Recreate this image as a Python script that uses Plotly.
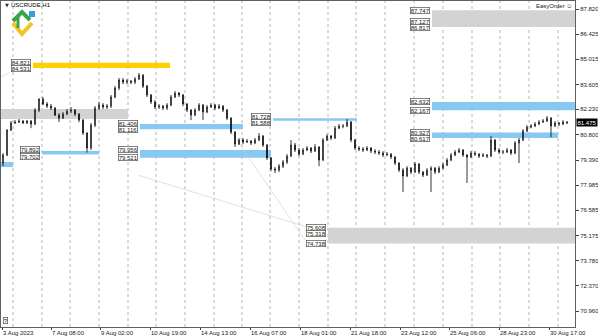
import plotly.graph_objects as go

# ---------------- data ----------------
opens = [79.22, 79.67, 81.06, 81.46, 81.51, 81.57, 81.46, 81.57, 81.40, 82.18,
         82.79, 82.52, 82.40, 82.29, 81.90, 81.73, 81.96, 82.12, 82.18, 81.96,
         81.62, 80.90, 80.06, 81.34, 82.29, 82.46, 82.35, 82.40, 82.91, 83.41,
         83.86, 83.74, 83.80, 83.74, 83.91, 84.13, 83.52, 83.02, 82.63, 82.35,
         82.40, 82.29, 82.46, 82.91, 83.13, 83.02, 82.52, 82.18, 81.90, 82.18,
         82.46, 82.07, 82.35, 82.46, 82.29, 82.40, 82.18, 81.73, 80.95, 80.28,
         80.51, 80.39, 80.45, 80.34, 80.51, 80.73, 80.23, 79.50, 78.89, 78.83,
         79.05, 79.28, 79.61, 80.23, 79.95, 79.72, 79.95, 80.06, 79.89, 80.12,
         79.39, 80.51, 80.73, 80.62, 81.17, 81.29, 81.29, 81.51, 80.51, 80.06,
         80.00, 79.95, 80.06, 79.89, 79.84, 79.78, 79.67, 79.72, 79.56, 79.22,
         78.83, 78.50, 78.94, 78.72, 79.17, 78.72, 78.55, 78.83, 78.94, 78.72,
         78.94, 79.11, 79.39, 79.67, 79.84, 79.95, 79.67, 79.56, 79.78, 79.72,
         79.61, 79.67, 79.61, 80.51, 79.95, 79.84, 79.84, 79.95, 79.78, 80.34,
         80.51, 81.01, 81.23, 81.29, 81.40, 81.51, 81.57, 81.73, 81.29, 81.46,
         81.40, 81.51]
highs = [79.78, 81.12, 81.57, 81.62, 81.68, 81.62, 81.62, 81.62, 82.29, 82.85,
         82.91, 82.63, 82.52, 82.35, 82.01, 82.07, 82.24, 82.35, 82.24, 82.01,
         81.68, 80.95, 81.46, 82.40, 82.63, 82.57, 82.52, 83.02, 83.52, 83.97,
         83.97, 83.91, 83.86, 84.02, 84.25, 84.19, 83.58, 83.08, 82.74, 82.52,
         82.46, 82.57, 83.02, 83.24, 83.19, 83.08, 82.57, 82.24, 82.29, 82.57,
         82.52, 82.46, 82.57, 82.52, 82.52, 82.46, 82.24, 81.79, 81.01, 80.62,
         80.62, 80.56, 80.51, 80.62, 80.90, 80.79, 80.28, 79.56, 79.00, 79.17,
         79.39, 79.72, 80.51, 80.34, 80.06, 80.06, 80.17, 80.12, 80.28, 80.17,
         80.62, 80.84, 80.79, 81.29, 81.40, 81.40, 81.68, 81.57, 80.56, 80.17,
         80.12, 80.17, 80.12, 80.00, 79.95, 79.89, 79.84, 79.78, 79.61, 79.28,
         78.94, 79.05, 79.00, 79.28, 79.22, 78.77, 78.94, 79.05, 79.00, 79.05,
         79.22, 79.50, 79.78, 79.95, 80.06, 80.00, 79.72, 79.89, 79.89, 79.78,
         79.78, 79.72, 80.73, 80.56, 80.06, 79.95, 80.06, 80.00, 80.45, 80.62,
         81.12, 81.34, 81.40, 81.51, 81.62, 81.68, 81.85, 81.79, 81.57, 81.51,
         81.62, 81.57]
lows = [79.05, 79.61, 81.01, 81.40, 81.46, 81.40, 81.40, 81.17, 81.34, 82.07,
        82.46, 82.29, 82.18, 81.85, 81.51, 81.68, 81.90, 82.01, 81.85, 81.51,
        80.79, 79.81, 79.95, 81.23, 82.18, 82.24, 82.24, 82.29, 82.85, 83.30,
        83.63, 83.63, 83.63, 83.63, 83.86, 83.41, 82.91, 82.52, 82.24, 82.24,
        82.18, 82.18, 82.40, 82.85, 82.91, 82.40, 82.07, 81.62, 81.85, 82.12,
        81.62, 82.01, 82.29, 82.18, 82.24, 82.07, 81.62, 80.84, 80.12, 80.23,
        80.28, 80.34, 80.23, 80.28, 80.45, 80.12, 79.39, 78.77, 78.66, 78.72,
        78.94, 79.17, 79.56, 79.84, 79.61, 79.67, 79.89, 79.78, 79.84, 79.05,
        79.33, 80.45, 80.51, 80.56, 81.12, 81.17, 81.23, 80.39, 79.95, 79.89,
        79.84, 79.89, 79.78, 79.72, 79.67, 79.56, 79.61, 79.44, 79.11, 78.72,
        77.60, 78.44, 78.61, 78.66, 78.61, 78.44, 78.50, 77.60, 78.61, 78.66,
        78.89, 79.05, 79.33, 79.61, 79.78, 79.56, 78.11, 79.50, 79.61, 79.50,
        79.56, 79.50, 79.56, 79.84, 79.72, 79.72, 79.78, 79.67, 79.72, 79.22,
        80.45, 80.95, 81.17, 81.23, 81.34, 81.46, 81.51, 80.67, 81.23, 81.29,
        81.34, 81.40]
closes = [79.67, 81.06, 81.46, 81.51, 81.57, 81.46, 81.57, 81.40, 82.18, 82.79,
          82.52, 82.40, 82.29, 81.90, 81.73, 81.96, 82.12, 82.18, 81.96, 81.62,
          80.90, 80.06, 81.34, 82.29, 82.46, 82.35, 82.40, 82.91, 83.41, 83.86,
          83.74, 83.80, 83.74, 83.91, 84.13, 83.52, 83.02, 82.63, 82.35, 82.40,
          82.29, 82.46, 82.91, 83.13, 83.02, 82.52, 82.18, 81.90, 82.18, 82.46,
          82.07, 82.35, 82.46, 82.29, 82.40, 82.18, 81.73, 80.95, 80.28, 80.51,
          80.39, 80.45, 80.34, 80.51, 80.73, 80.23, 79.50, 78.89, 78.83, 79.05,
          79.28, 79.61, 80.23, 79.95, 79.72, 79.95, 80.06, 79.89, 80.12, 79.39,
          80.51, 80.73, 80.62, 81.17, 81.29, 81.29, 81.51, 80.51, 80.06, 80.00,
          79.95, 80.06, 79.89, 79.84, 79.78, 79.67, 79.72, 79.56, 79.22, 78.83,
          78.50, 78.94, 78.72, 79.17, 78.72, 78.55, 78.83, 78.94, 78.72, 78.94,
          79.11, 79.39, 79.67, 79.84, 79.95, 79.67, 79.56, 79.78, 79.72, 79.61,
          79.67, 79.61, 80.51, 79.95, 79.84, 79.84, 79.95, 79.78, 80.34, 80.51,
          81.01, 81.23, 81.29, 81.40, 81.51, 81.57, 81.73, 81.29, 81.46, 81.40,
          81.51, 81.475]
bar_index = list(range(len(closes)))

# time axis labels (bar position of label start)
time_labels = ["3 Aug 2023", "7 Aug 08:00", "9 Aug 02:00", "10 Aug 19:00",
               "14 Aug 13:00", "16 Aug 07:00", "18 Aug 01:00", "21 Aug 18:00",
               "23 Aug 12:00", "25 Aug 06:00", "28 Aug 23:00", "30 Aug 17:00"]
time_label_pos = [-0.25, 12, 24.25, 36.75, 49.25, 61.75, 74.25, 86.75,
                  99.25, 111.5, 124, 136.5]
# day separators (vertical dotted grid)
day_separators = [2.5, 9.75, 16.75, 24, 31.25, 38.25, 45.5, 52.75, 59.75,
                  66.75, 74, 81.25, 88.25, 95.5, 102.75, 110, 117.25, 124.25,
                  131.5, 138.75]
# price scale
price_ticks = [87.820, 86.425, 85.015, 83.605, 82.230, 80.800, 79.390,
               77.985, 76.585, 75.175, 73.780, 72.370, 70.960]

# zones
zone_top = [84.821, 82.24, 79.28, 79.892, 81.406, 79.956, 81.728, 87.747,
            82.632, 80.927, 75.608]
zone_bottom = [84.531, 81.68, 79.00, 79.702, 81.116, 79.521, 81.588, 86.817,
               82.167, 80.617, 74.738]
zone_start = [7.5, -0.5, -0.5, 9.75, 34.25, 34.25, 67.5, 107.25, 107.25,
              107.25, 81.25]
zone_end = [41.75, 31.25, 2.5, 24, 60, 67, 88.5, 143, 143, 138.75, 143]
zone_kind = ["gold", "grey", "blue", "blue", "blue", "blue", "blue", "grey",
             "blue", "blue", "grey"]
zone_labels = [[84.821, 84.531], [], [], [79.892, 79.702], [81.406, 81.116],
               [79.956, 79.521], [81.728, 81.588], [87.747, 87.127, 86.817],
               [82.632, 82.167], [80.927, 80.617], [75.608, 75.318, 74.738]]

# faint trend lines (bar, price)
trend_x0 = [33.75, 56.75, -0.5]
trend_y0 = [78.55, 81.06, 84.02]
trend_x1 = [76.0, 75.5, 1.75]
trend_y1 = [75.65, 74.92, 84.30]

symbol = "USCRUDE,H1"
last_price = closes[-1]

# ---------------- figure ----------------
W, H = 598, 336
ML, MR, MT, MB = 1, 23, 1, 9
PW, PH = W - ML - MR, H - MT - MB
Y_RANGE = [70.07, 88.27]
PX_PER_UNIT = PH / (Y_RANGE[1] - Y_RANGE[0])

def px(xp):
    return (xp - ML) / PW

def py(yp):
    return (H - MB - yp) / PH

colors = {"gold": "#ffd000", "grey": "#d3d3d3", "blue": "#87c9f2"}
FONT = "Liberation Sans, Arial, DejaVu Sans"

fig = go.Figure()
fig.add_trace(go.Candlestick(
    x=bar_index, open=opens, high=highs, low=lows, close=closes,
    increasing=dict(line=dict(color="#000000", width=0.8), fillcolor="#ffffff"),
    decreasing=dict(line=dict(color="#000000", width=0.8), fillcolor="#000000"),
    whiskerwidth=0, showlegend=False, hoverinfo="skip"))

shapes = []
for xs in day_separators:
    shapes.append(dict(type="line", xref="x", yref="paper", x0=xs, x1=xs,
                       y0=0, y1=1, layer="below",
                       line=dict(color="#b4b4b4", width=1, dash="dot")))
for t, b, s, e, k in zip(zone_top, zone_bottom, zone_start, zone_end, zone_kind):
    shapes.append(dict(type="rect", xref="x", yref="y", x0=s, x1=e, y0=b, y1=t,
                       fillcolor=colors[k], line=dict(width=0), layer="below"))
for x0, y0, x1, y1 in zip(trend_x0, trend_y0, trend_x1, trend_y1):
    shapes.append(dict(type="line", xref="x", yref="y", x0=x0, y0=y0, x1=x1,
                       y1=y1, layer="below",
                       line=dict(color="rgba(215,205,185,0.6)", width=1)))

# logo (decorative)
def path(pts):
    return "M " + " L ".join(f"{px(a):.4f},{py(b):.4f}" for a, b in pts)

shapes.append(dict(type="path", xref="paper", yref="paper",
                   path=path([(13, 23), (22, 34), (32, 23)]),
                   line=dict(color="#f3c21b", width=4)))
shapes.append(dict(type="path", xref="paper", yref="paper",
                   path=path([(13, 21), (22, 12), (30, 20)]),
                   line=dict(color="#3aa54a", width=4)))
shapes.append(dict(type="path", xref="paper", yref="paper",
                   path=path([(18, 17), (18, 28)]),
                   line=dict(color="#3aa54a", width=3)))
shapes.append(dict(type="rect", xref="paper", yref="paper",
                   x0=px(29), x1=px(35), y0=py(17), y1=py(11),
                   fillcolor="#2f9fe0", line=dict(width=0)))

# price labels; spread apart where they would overlap
LABEL_H = 6.5
annotations = []
for s, labs in zip(zone_start, zone_labels):
    shifts = [0.0] * len(labs)
    for j in range(1, len(labs)):
        gap = (labs[j - 1] - labs[j]) * PX_PER_UNIT + shifts[j - 1] - shifts[j]
        if gap < LABEL_H:
            need = LABEL_H - gap
            if j == 1:
                shifts[0] += need / 2
                shifts[1] -= need / 2
            else:
                shifts[j] -= need
    for v, sh in zip(labs, shifts):
        annotations.append(dict(
            x=s, y=v, xref="x", yref="y", xanchor="right", yanchor="middle",
            xshift=-2, yshift=sh, text=f"{v:.3f}", showarrow=False,
            font=dict(family=FONT, size=6, color="#202020"),
            bgcolor="#ffffff", bordercolor="#505050", borderwidth=0.7,
            borderpad=0))

annotations += [
    dict(x=px(3), y=py(5), xref="paper", yref="paper", xanchor="left",
         yanchor="middle", text="▼", showarrow=False,
         font=dict(family="DejaVu Sans", size=5, color="#303030")),
    dict(x=px(9), y=py(5), xref="paper", yref="paper", xanchor="left",
         yanchor="middle", text=symbol, showarrow=False,
         font=dict(family=FONT, size=6, color="#000000")),
    dict(x=px(574), y=py(6), xref="paper", yref="paper", xanchor="right",
         yanchor="middle", text="EasyOrder ☺", showarrow=False,
         font=dict(family=FONT, size=6, color="#202020")),
    dict(x=px(3), y=py(320), xref="paper", yref="paper", xanchor="left",
         yanchor="middle", text="?", showarrow=False,
         font=dict(family=FONT, size=6, color="#202020"),
         bgcolor="#ffffff", bordercolor="#505050", borderwidth=0.7, borderpad=0),
    dict(x=1, y=last_price, xref="paper", yref="y", xanchor="left",
         yanchor="middle", xshift=1, text=f"{last_price:.3f}", showarrow=False,
         font=dict(family=FONT, size=6, color="#ffffff"),
         bgcolor="#000000", borderpad=0.5),
]

fig.update_layout(
    width=W, height=H, margin=dict(l=ML, r=MR, t=MT, b=MB),
    paper_bgcolor="#ffffff", plot_bgcolor="#ffffff", boxgap=0.75,
    shapes=shapes, annotations=annotations, showlegend=False,
    xaxis=dict(range=[-0.5, 143], rangeslider=dict(visible=False),
               tickvals=time_label_pos, ticktext=time_labels,
               ticklabelposition="outside right", ticks="outside", ticklen=2,
               tickcolor="#404040", showgrid=False, zeroline=False,
               showline=True, linecolor="#606060", linewidth=1, mirror=True,
               tickfont=dict(family=FONT, size=6, color="#202020"),
               automargin=False),
    yaxis=dict(range=Y_RANGE, side="right", tickvals=price_ticks,
               ticktext=[f"{v:.3f}" for v in price_ticks], ticks="outside",
               ticklen=3, tickcolor="#404040", showgrid=False, zeroline=False,
               showline=True, linecolor="#606060", linewidth=1, mirror=True,
               tickfont=dict(family=FONT, size=6, color="#202020"),
               automargin=False),
)

fig.write_html("out.html")
